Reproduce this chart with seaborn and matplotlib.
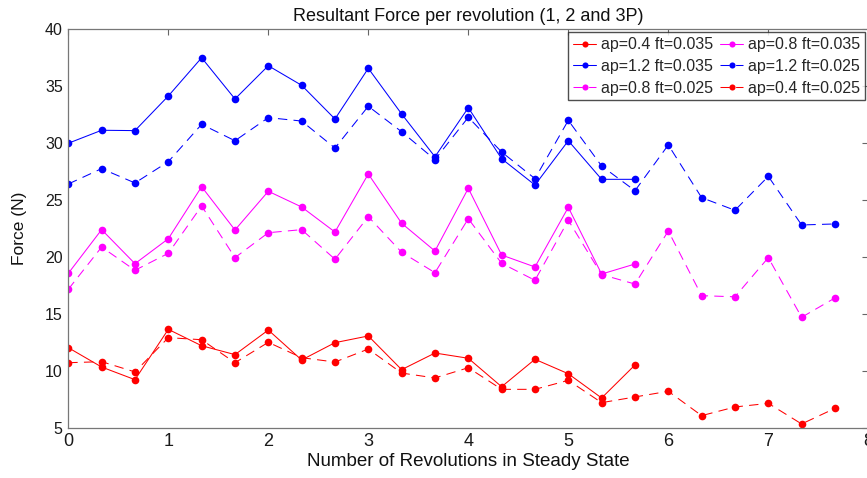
import numpy as np
import matplotlib
matplotlib.use("Agg")
import matplotlib.pyplot as plt
import seaborn as sns
from matplotlib import font_manager

sns.set_style("white")
names = {f.name for f in font_manager.fontManager.ttflist}
main_font = "Liberation Sans" if "Liberation Sans" in names else "DejaVu Sans"
narrow_font = "Liberation Sans Narrow" if "Liberation Sans Narrow" in names else main_font
plt.rcParams["font.family"] = [main_font, "DejaVu Sans"]

# ---- data ----
revolutions = np.arange(24) / 3.0

red_solid = [12.03, 10.33, 9.22, 13.64, 12.2, 11.42, 13.58, 10.95, 12.47, 13.06, 10.1, 11.56,
             11.1, 8.6, 11.01, 9.74, 7.61, 10.51]
red_dashed = [10.71, 10.8, 9.9, 12.91, 12.73, 10.71, 12.5, 11.15, 10.77, 11.91, 9.8, 9.37,
              10.27, 8.37, 8.37, 9.16, 7.2, 7.7, 8.2, 6.06, 6.82, 7.14, 5.33, 6.7]
mag_solid = [18.56, 22.4, 19.41, 21.6, 26.17, 22.37, 25.77, 24.39, 22.19, 27.29, 22.96, 20.52,
             26.03, 20.17, 19.12, 24.36, 18.5, 19.38]
mag_dashed = [17.16, 20.87, 18.83, 20.32, 24.48, 19.94, 22.13, 22.4, 19.8, 23.54, 20.41, 18.62,
              23.36, 19.44, 17.95, 23.22, 18.45, 17.62, 22.28, 16.6, 16.5, 19.94, 14.7, 16.4]
blue_solid = [29.99, 31.13, 31.1, 34.14, 37.5, 33.88, 36.8, 35.08, 32.12, 36.57, 32.56, 28.8,
              33.11, 28.63, 26.32, 30.21, 26.82, 26.82]
blue_dashed = [26.41, 27.76, 26.5, 28.37, 31.65, 30.21, 32.24, 31.94, 29.57, 33.24, 31.0, 28.55,
               32.27, 29.22, 26.88, 32.0, 27.99, 25.82, 29.84, 25.21, 24.1, 27.08, 22.81, 22.9]

labels = ["ap=0.4 ft=0.035", "ap=1.2 ft=0.035", "ap=0.8 ft=0.025",
          "ap=0.8 ft=0.035", "ap=1.2 ft=0.025", "ap=0.4 ft=0.025"]
series = [red_solid, blue_solid, mag_dashed, mag_solid, blue_dashed, red_dashed]
colors = ["#ff0000", "#0000ff", "#ff00ff", "#ff00ff", "#0000ff", "#ff0000"]
styles = ["-", "-", (0, (9, 6)), "-", (0, (9, 6)), (0, (9, 6))]

title = "Resultant Force per revolution (1, 2 and 3P)"
xlabel = "Number of Revolutions in Steady State"
ylabel = "Force (N)"

# ---- plot ----
W, H = 867, 478
fig = plt.figure(figsize=(W / 100, H / 100), dpi=100)
ax = fig.add_axes([68.3 / W, (H - 427.7) / H, 800 / W, 398.4 / H])

for vals, c, ls, lab in zip(series, colors, styles, labels):
    x = revolutions[:len(vals)]
    sns.lineplot(x=x, y=vals, ax=ax, color=c, linestyle=ls, linewidth=0.75,
                 marker="o", markersize=5.5, markeredgewidth=0, markerfacecolor=c,
                 label=lab, estimator=None, sort=False)

ax.set_xlim(0, 8)
ax.set_ylim(5, 40)
ax.set_xticks(range(0, 9))
ax.set_yticks(range(5, 41, 5))
ax.tick_params(direction="in", length=4, width=0.8, color="#666666",
               top=True, right=True, labelsize=11.5, labelcolor="#1a1a1a", pad=4)
for lab in ax.get_xticklabels():
    lab.set_fontfamily(narrow_font)
    lab.set_fontsize(13)
for s in ax.spines.values():
    s.set_color("#777777")
    s.set_linewidth(0.9)

ax.set_title(title, fontsize=13, family=narrow_font, color="#111111", pad=6)
ax.set_xlabel(xlabel, fontsize=13.5, family=narrow_font, color="#111111", labelpad=2)
ax.set_ylabel(ylabel, fontsize=12.5, color="#111111", labelpad=13)

leg = ax.legend(ncol=2, loc="upper right", fontsize=11.5, frameon=True, fancybox=False,
                borderaxespad=0.2, handlelength=1.45, handletextpad=0.3, columnspacing=0.45,
                labelspacing=0.42, borderpad=0.3, markerscale=0.8)
leg.get_frame().set_edgecolor("#222222")
leg.get_frame().set_linewidth(1.0)

fig.savefig("out.png", dpi=100)
